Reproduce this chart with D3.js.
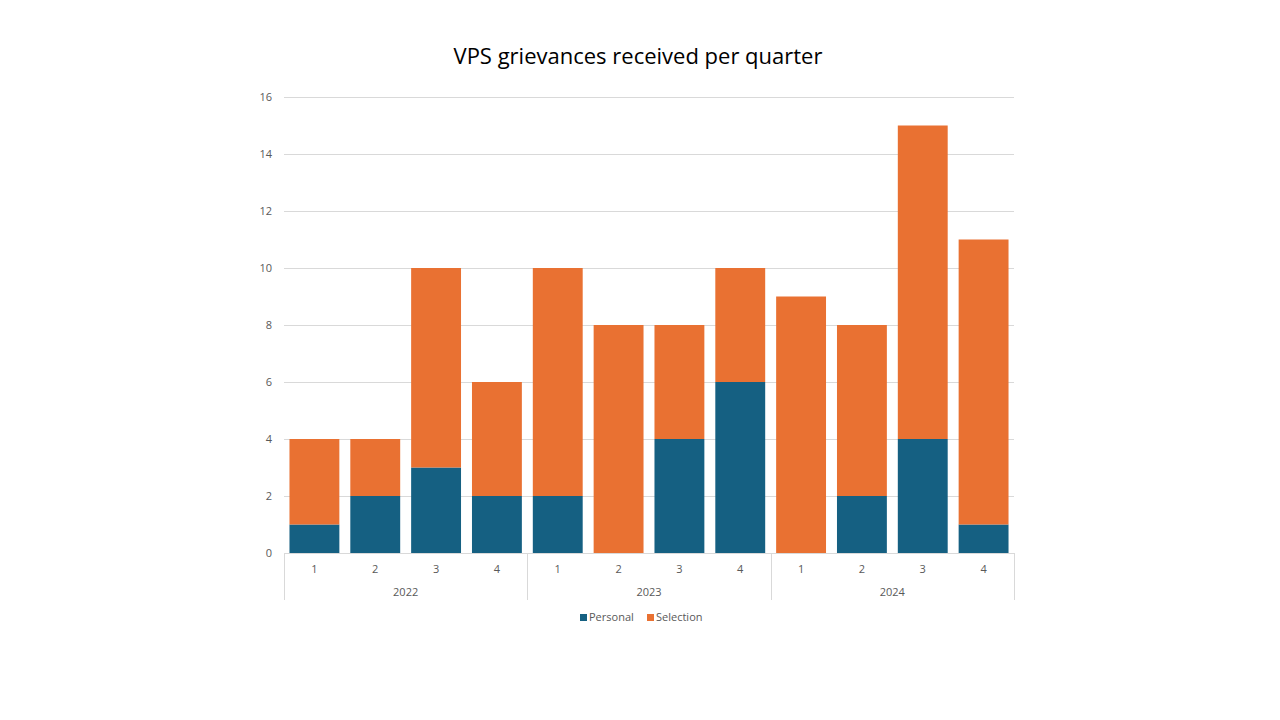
<!DOCTYPE html>
<html><head><meta charset="utf-8">
<script src="https://cdn.jsdelivr.net/npm/d3@7"></script>
<style>body{margin:0;background:#fff;} text{font-family:"Open Sans","Noto Sans",sans-serif;}</style>
</head><body>
<svg id="c" width="1280" height="720"></svg>
<script>
const years = ["2022","2023","2024"];
const quarters = ["1","2","3","4"];
const personal = [1,2,3,2, 2,0,4,6, 0,2,4,1];
const selection = [3,2,7,4, 8,8,4,4, 9,6,11,10];
const yTicks = [0,2,4,6,8,10,12,14,16];
const seriesNames = ["Personal","Selection"];
const colors = ["#156082","#E97132"];

(function(){
const svg = d3.select("#c");
const pLeft = 284, pRight = 1014, pTop = 97, pBottom = 553;
const cats = [];
years.forEach(y => quarters.forEach(q => cats.push(y + "-" + q)));
const x = d3.scaleBand().domain(cats).range([pLeft, pRight]).paddingInner(0.18).paddingOuter(0.09);
const y = d3.scaleLinear().domain([0,16]).range([pBottom, pTop]);

svg.append("text").attr("x", 638).attr("y", 64).attr("text-anchor","middle")
  .attr("font-size", 22).attr("fill","#000").text("VPS grievances received per quarter");

// gridlines
svg.append("g").selectAll("line").data(yTicks).join("line")
  .attr("x1", pLeft).attr("x2", pRight).attr("y1", d => Math.round(y(d))+0.5).attr("y2", d => Math.round(y(d))+0.5)
  .attr("stroke", "#d9d9d9").attr("stroke-width", 1);
svg.append("g").selectAll("text").data(yTicks).join("text")
  .attr("x", 272).attr("y", d => y(d) + 4).attr("text-anchor","end")
  .attr("font-size", 11).attr("fill","#595959").text(d => d);

const data = cats.map((c,i) => ({cat:c, Personal: personal[i], Selection: selection[i]}));
const stack = d3.stack().keys(seriesNames)(data);
svg.append("g").selectAll("g").data(stack).join("g").attr("fill", (d,i) => colors[i])
  .selectAll("rect").data(d => d).join("rect")
  .attr("x", d => x(d.data.cat)).attr("width", x.bandwidth())
  .attr("y", d => y(d[1])).attr("height", d => y(d[0]) - y(d[1]));

// category axis
const bx = [0,4,8,12].map(i => pLeft + i * (pRight-pLeft)/12);
svg.append("g").selectAll("line").data(bx).join("line")
  .attr("x1", d => Math.round(d)+0.5).attr("x2", d => Math.round(d)+0.5).attr("y1", pBottom).attr("y2", 600)
  .attr("stroke","#d9d9d9");
svg.append("g").selectAll("text").data(cats).join("text")
  .attr("x", d => x(d) + x.bandwidth()/2).attr("y", 573).attr("text-anchor","middle")
  .attr("font-size", 11).attr("fill","#595959").text(d => d.split("-")[1]);
svg.append("g").selectAll("text").data(years).join("text")
  .attr("x", (d,i) => (bx[i] + bx[i+1]) / 2).attr("y", 596).attr("text-anchor","middle")
  .attr("font-size", 11).attr("fill","#595959").text(d => d);

// legend
const leg = svg.append("g");
const lx = [580, 647];
seriesNames.forEach((s,i) => {
  leg.append("rect").attr("x", lx[i]).attr("y", 614).attr("width", 7).attr("height", 7).attr("fill", colors[i]);
  leg.append("text").attr("x", lx[i] + 9).attr("y", 621).attr("font-size", 11).attr("fill","#595959").text(s);
});
})();
</script>
</body></html>
